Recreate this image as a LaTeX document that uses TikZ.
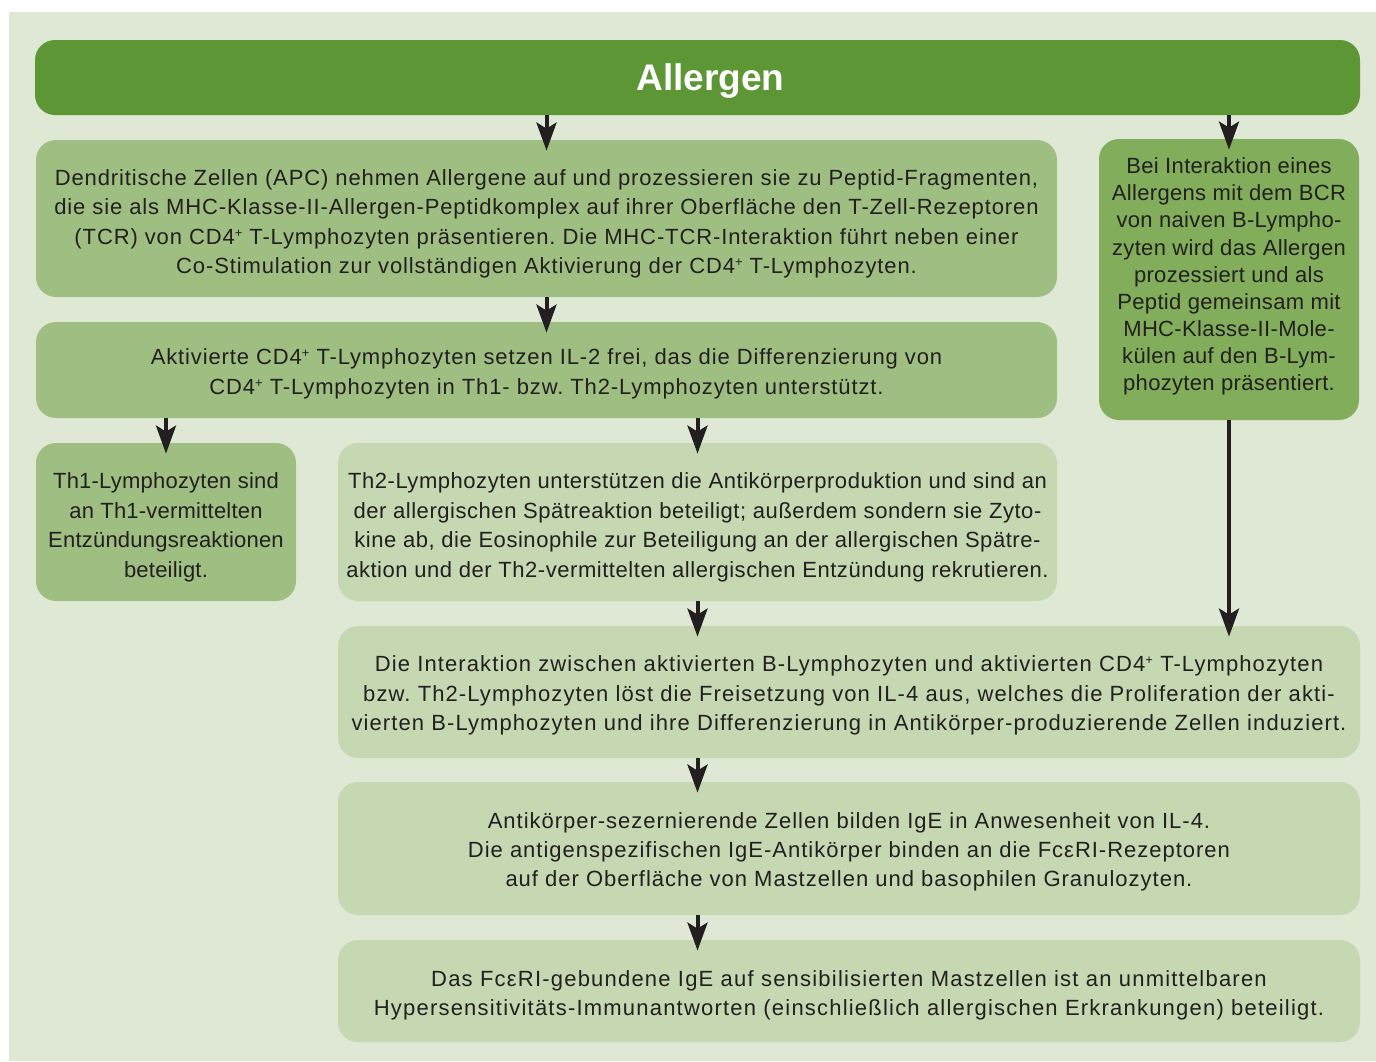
\documentclass[tikz,border=0pt]{standalone}
\usepackage{fontspec}
\setmainfont{Liberation Sans}
\usetikzlibrary{arrows.meta}
\definecolor{bgc}{RGB}{223,232,213}
\definecolor{headc}{RGB}{93,150,52}
\definecolor{midc}{RGB}{159,191,130}
\definecolor{bcrc}{RGB}{130,174,92}
\definecolor{lightc}{RGB}{197,216,178}
\definecolor{txt}{RGB}{35,31,32}
\frenchspacing
\newcommand{\cdp}{CD4\raisebox{3.6pt}{\fontsize{6.5}{6.5}\selectfont +}}
\newcommand{\bodyfont}[1]{\fontsize{11}{14.7}\selectfont\addfontfeatures{LetterSpace=#1}}
\newcommand{\topgap}[1]{\rule{0pt}{#1}}
\begin{document}
\begin{tikzpicture}[x=0.5pt,y=-0.5pt,
  box/.style={rounded corners=10pt, inner sep=2pt, align=center, text=txt,
    text depth=0pt, font=\bodyfont{4}},
  arr/.style={-{Stealth[length=14pt,width=10pt,inset=3pt]}, line width=2pt,
    draw=txt, shorten >=-5.5pt}]
\useasboundingbox (0,0) rectangle (1376,1061);
\fill[bgc] (9,12) rectangle (1376,1061);

\node[box, fill=headc, text=white, font=\fontsize{18.5}{20}\selectfont\bfseries,
  minimum width=662.5pt, minimum height=37.5pt] (head) at (697.5,77.5) {\hspace*{13pt}Allergen};
\node[box, fill=midc, minimum width=510.5pt, minimum height=78.5pt] (apc) at (546.5,218.5)
  {\topgap{11pt}Dendritische Zellen (APC) nehmen Allergene auf und prozessieren sie zu Peptid-Fragmenten,\\
   die sie als MHC-Klasse-II-Allergen-Peptidkomplex auf ihrer Oberfläche den T-Zell-Rezeptoren\\
   (TCR) von \cdp{} T-Lymphozyten präsentieren. Die MHC-TCR-Interaktion führt neben einer\\
   Co-Stimulation zur vollständigen Aktivierung der \cdp{} T-Lymphozyten.};
\node[box, fill=midc, minimum width=510.5pt, minimum height=48pt] (il2) at (546.5,370)
  {\topgap{9.5pt}Aktivierte \cdp{} T-Lymphozyten setzen IL-2 frei, das die Differenzierung von\\
   \cdp{} T-Lymphozyten in Th1- bzw. Th2-Lymphozyten unterstützt.};
\node[box, fill=bcrc, font=\bodyfont{1.5}\fontsize{11}{13.55}\selectfont, text depth=5.3pt,
  minimum width=130pt, minimum height=140.5pt] (bcr) at (1229,279.5)
  {Bei Interaktion eines\\ Allergens mit dem BCR\\ von naiven B-Lympho-\\
   zyten wird das Allergen\\ prozessiert und als\\ Peptid gemeinsam mit\\
   MHC-Klasse-II-Mole-\\ külen auf den B-Lym-\\ phozyten präsentiert.};
\node[box, fill=midc, font=\bodyfont{1}, minimum width=130pt, minimum height=79pt] (th1) at (166,522)
  {\topgap{11pt}Th1-Lymphozyten sind\\ an Th1-vermittelten\\ Entzündungsreaktionen\\ beteiligt.};
\node[box, fill=lightc, font=\bodyfont{2.5}, minimum width=359.5pt, minimum height=79pt] (th2) at (697.5,522)
  {\topgap{11pt}Th2-Lymphozyten unterstützen die Antikörperproduktion und sind an\\
   der allergischen Spätreaktion beteiligt; außerdem sondern sie Zyto-\\
   kine ab, die Eosinophile zur Beteiligung an der allergischen Spätre-\\
   aktion und der Th2-vermittelten allergischen Entzündung rekrutieren.};
\node[box, fill=lightc, font=\bodyfont{5}, minimum width=511pt, minimum height=66pt] (inter) at (849,692)
  {\topgap{9pt}Die Interaktion zwischen aktivierten B-Lymphozyten und aktivierten \cdp{} T-Lymphozyten\\
   bzw. Th2-Lymphozyten löst die Freisetzung von IL-4 aus, welches die Proliferation der akti-\\
   vierten B-Lymphozyten und ihre Differenzierung in Antikörper-produzierende Zellen induziert.};
\node[box, fill=lightc, font=\bodyfont{4.5}, minimum width=511pt, minimum height=66.5pt] (ige) at (849,848.5)
  {\topgap{9pt}Antikörper-sezernierende Zellen bilden IgE in Anwesenheit von IL-4.\\
   Die antigenspezifischen IgE-Antikörper binden an die FcεRI-Rezeptoren\\
   auf der Oberfläche von Mastzellen und basophilen Granulozyten.};
\node[box, fill=lightc, font=\bodyfont{5.5}, minimum width=511pt, minimum height=51pt] (fce) at (849,991)
  {\topgap{10pt}Das FcεRI-gebundene IgE auf sensibilisierten Mastzellen ist an unmittelbaren\\
   Hypersensitivitäts-Immunantworten (einschließlich allergischen Erkrankungen) beteiligt.};

\draw[arr] (head.south -| apc) -- (apc);
\draw[arr] (head.south -| bcr) -- (bcr);
\draw[arr] (apc) -- (il2);
\draw[arr] (il2.south -| th1) -- (th1);
\draw[arr] (il2.south -| th2) -- (th2);
\draw[arr] (bcr) -- (inter.north -| bcr);
\draw[arr] (th2.south) -- (inter.north -| th2);
\draw[arr] (inter.south -| th2) -- (ige.north -| th2);
\draw[arr] (ige.south -| th2) -- (fce.north -| th2);
\end{tikzpicture}
\end{document}
